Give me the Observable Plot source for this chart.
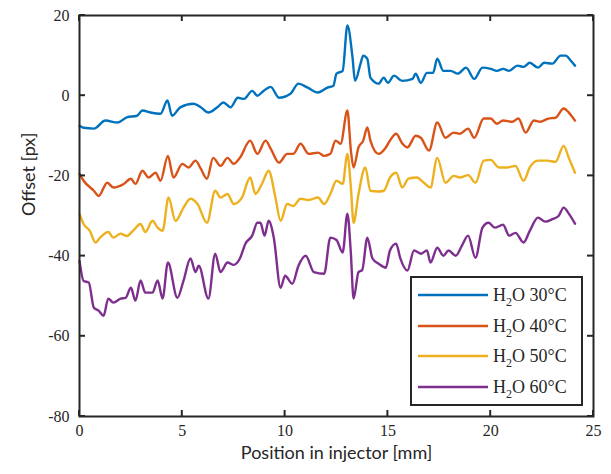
<!DOCTYPE html>
<html>
<head>
<meta charset="utf-8">
<script src="https://cdn.jsdelivr.net/npm/d3@7"></script>
<script src="https://cdn.jsdelivr.net/npm/@observablehq/plot@0.6"></script>
<style>
  html, body { margin: 0; padding: 0; background: #fff; }
  #wrap { position: relative; }
  #legend {
    position: absolute; left: 410px; top: 276px; width: 169px; height: 126px;
    border: 2px solid #262626; background: #fff;
    font-family: "Liberation Serif", serif; font-size: 18px; color: #262626;
  }
  .item { position: absolute; left: 0; height: 24px; display: flex; align-items: center; white-space: nowrap; }
  .item svg { margin-left: 6px; margin-right: 5px; }
  .item sub { font-size: 12px; vertical-align: -5px; line-height: 0; }
</style>
</head>
<body>
<div id="wrap"></div>
<script>
// ---- data ----
const seriesNames = ["30°C", "40°C", "50°C", "60°C"];
const seriesColors = ["#0072BD", "#D95319", "#EDB120", "#7E2F8E"];
const xTicks = [0, 5, 10, 15, 20, 25];
const yTicks = [-80, -60, -40, -20, 0, 20];

const x30 = [0,0.2,0.7,1.26,1.85,2.3,2.8,3.06,3.45,3.94,4.28,4.5,4.9,5.55,5.9,6.27,6.7,7.0,7.35,7.7,8.0,8.4,8.65,8.95,9.3,9.7,10.26,10.65,11.1,11.6,12.06,12.35,12.5,12.8,13.03,13.28,13.4,13.67,13.8,14.0,14.15,14.55,14.8,15.0,15.3,15.7,16.2,16.35,16.6,16.9,17.2,17.4,17.7,18.05,18.4,18.8,19.2,19.6,20.0,20.3,20.6,20.9,21.3,21.6,21.9,22.3,22.6,23.0,23.4,23.65,23.9,24.1];
const y30 = [-7.5,-8,-8.2,-6.2,-6.7,-5.4,-5,-3.7,-4.2,-4.5,-1.2,-5,-2.9,-2,-2.9,-4.2,-2.9,-1.7,-2.9,-0.5,-0.8,1.2,0,1.2,2.2,-0.5,0.5,3,2,0.8,2,2.5,5.5,6.2,17.5,9.5,3.7,8,10,9.2,4.5,3,4.5,3.2,5,3.7,4.2,5.5,3.2,5.7,5.7,9.2,6.2,6.2,5.5,7,4.2,7,6.7,6.2,6.7,6.2,7.5,7.2,8.2,7,8.2,8,10,10,8.7,7.5];

const x40 = [0,0.2,0.7,0.93,1.35,1.65,2.15,2.5,2.72,3.06,3.36,3.7,3.94,4.3,4.57,5.0,5.3,5.64,5.9,6.2,6.5,6.86,7.2,7.5,7.8,8.3,8.65,9.05,9.3,9.7,10.1,10.4,10.75,11.15,11.6,11.9,12.2,12.45,12.7,13.03,13.2,13.33,13.57,13.8,14.0,14.15,14.55,14.9,15.1,15.4,15.7,15.95,16.35,16.6,17.0,17.4,17.8,18.2,18.5,18.9,19.2,19.66,20.0,20.3,20.6,21.05,21.35,21.7,22.1,22.4,22.8,23.15,23.55,23.8,24.1];
const y40 = [-19.5,-21.2,-23.7,-25,-21.7,-22.9,-22,-20.7,-22,-18.7,-20.4,-19.2,-21.2,-15,-20.4,-17,-17.9,-16.2,-18.2,-20.7,-15.5,-17.5,-15.5,-17,-15.5,-11.2,-14.5,-11.2,-13.2,-16.7,-14.5,-14.5,-12,-14.5,-14.2,-15,-14.5,-11.2,-12,-3.7,-13.7,-17.9,-12.9,-11.2,-7.9,-11.2,-14.5,-12.9,-11.2,-9.5,-11.9,-12.9,-10,-10.5,-13.7,-6.7,-10.5,-9.2,-9.5,-8.2,-10.5,-5.7,-5.7,-7,-6.2,-6.5,-5.7,-9.2,-6.2,-6.5,-5.7,-5.5,-3.2,-4.2,-6.2];

const x50 = [0,0.2,0.5,0.78,1.0,1.4,1.65,2.0,2.3,2.6,2.97,3.2,3.55,3.8,4.04,4.33,4.67,5.06,5.4,5.74,6.2,6.6,6.86,7.2,7.5,7.9,8.3,8.56,8.9,9.2,9.53,9.78,10.1,10.4,10.75,11.15,11.6,11.9,12.2,12.5,12.8,13.03,13.2,13.33,13.57,13.9,14.15,14.5,14.8,15.1,15.4,15.7,16.0,16.4,16.75,17.07,17.4,17.8,18.2,18.5,18.9,19.26,19.66,20.0,20.4,20.8,21.2,21.6,21.9,22.3,22.75,23.15,23.55,23.8,24.1];
const y50 = [-29.5,-32,-33.7,-36.6,-35.4,-34,-35.4,-34.4,-35,-33.7,-32,-34,-31.2,-32.9,-33.7,-25.4,-31.2,-27.9,-25.7,-27,-31.7,-23.7,-25.4,-24.5,-27,-25.4,-20.4,-24.5,-21.7,-18.7,-25.4,-31.2,-27,-27.5,-25.7,-26,-25.4,-27,-24.5,-21.2,-22,-14.5,-22.9,-31.7,-24.5,-17.9,-23.7,-23.9,-23.7,-20.4,-19.2,-22.9,-20.7,-20.4,-21.7,-22.9,-15.5,-21.7,-20,-20.4,-19.8,-21.7,-16.2,-16,-17.9,-17.9,-17.5,-21.2,-17.9,-16.2,-16.2,-16.5,-12.5,-15.5,-19.2];

const x60 = [0,0.2,0.45,0.7,0.93,1.17,1.4,1.65,2.0,2.24,2.5,2.72,2.97,3.2,3.55,3.8,4.04,4.3,4.76,5.06,5.4,5.64,5.8,6.27,6.6,6.86,7.2,7.5,7.8,8.07,8.4,8.65,8.8,9.0,9.2,9.45,9.78,10.0,10.35,10.65,11.0,11.4,11.9,12.2,12.5,12.8,13.03,13.2,13.33,13.57,13.75,14.0,14.25,14.55,14.9,15.1,15.4,15.6,15.95,16.27,16.6,16.9,17.07,17.4,17.7,17.95,18.3,18.6,18.9,19.26,19.6,19.9,20.2,20.6,20.9,21.2,21.6,21.9,22.3,22.65,23.0,23.3,23.55,23.8,24.1];
const y60 = [-41.2,-46.2,-46.6,-52.9,-53.6,-54.9,-50.6,-51.6,-50.6,-50.4,-47.9,-51.1,-46.1,-49.1,-49.1,-46.1,-50.6,-41.6,-50.4,-46.1,-40.6,-44,-42.4,-50.6,-39.4,-44,-41.6,-42.2,-40.6,-36.9,-34.9,-31.7,-31.7,-34.9,-31.2,-35.4,-47.9,-44.9,-46.9,-42.4,-39.9,-44,-44.4,-35.4,-36,-39.1,-29.4,-39.4,-50.6,-44,-43.5,-35.4,-40.6,-41.9,-42.9,-38.6,-36.9,-40.5,-43.6,-38.6,-39.4,-38.6,-41.6,-37.9,-39.9,-38.6,-39.9,-37.4,-34.9,-40.4,-32.9,-31.7,-32.9,-32.2,-34.9,-34.2,-36.6,-33.7,-30.4,-31.4,-30.8,-30,-27.9,-29.4,-31.9];

const xs = [x30, x40, x50, x60];
const ys = [y30, y40, y50, y60];

// ---- table for Plot ----
const data = [];
seriesNames.forEach((name, s) => {
  const n = Math.min(xs[s].length, ys[s].length);
  for (let i = 0; i < n; i++) data.push({series: name, x: xs[s][i], y: ys[s][i]});
});

const ink = "#262626";
const fmt = d => String(d);

const chart = Plot.plot({
  width: 611,
  height: 474,
  marginLeft: 79,
  marginRight: 18,
  marginTop: 15,
  marginBottom: 58,
  x: {domain: [0, 25]},
  y: {domain: [-80, 20]},
  color: {domain: seriesNames, range: seriesColors},
  style: {fontFamily: "'Liberation Serif', serif", fontSize: "16px", color: ink},
  marks: [
    Plot.line(data, {x: "x", y: "y", z: "series", stroke: "series", strokeWidth: 2.4, strokeLinejoin: "round", curve: "monotone-x"}),
    Plot.frame({stroke: ink, strokeWidth: 2}),
    Plot.axisX(xTicks, {anchor: "bottom", tickSize: 0, tickPadding: 8, tickFormat: fmt, label: null, fill: ink}),
    Plot.axisY(yTicks, {anchor: "left", tickSize: 0, tickPadding: 10, tickFormat: fmt, label: null, fill: ink}),
    Plot.text(["Position in injector [mm]"], {frameAnchor: "bottom", dy: 42, fontFamily: "Lato", fontSize: 18, fill: ink}),
    Plot.text(["Offset [px]"], {frameAnchor: "left", dx: -50, rotate: -90, fontFamily: "Lato", fontSize: 18, fill: ink})
  ]
});

// ---- inward ticks on all four sides, positioned through the chart's own scales ----
const sx = chart.scale("x"), sy = chart.scale("y");
const X0 = sx.apply(0), X1 = sx.apply(25);
const Y0 = sy.apply(-80), Y1 = sy.apply(20);
const tickLen = 6;
const g = d3.select(chart).append("g").attr("stroke", ink).attr("stroke-width", 2);
xTicks.forEach(v => {
  const px = sx.apply(v);
  g.append("line").attr("x1", px).attr("x2", px).attr("y1", Y0).attr("y2", Y0 - tickLen);
  g.append("line").attr("x1", px).attr("x2", px).attr("y1", Y1).attr("y2", Y1 + tickLen);
});
yTicks.forEach(v => {
  const py = sy.apply(v);
  g.append("line").attr("y1", py).attr("y2", py).attr("x1", X0).attr("x2", X0 + tickLen);
  g.append("line").attr("y1", py).attr("y2", py).attr("x1", X1).attr("x2", X1 - tickLen);
});

const wrap = document.getElementById("wrap");
wrap.appendChild(chart);

// ---- legend ----
const legend = document.createElement("div");
legend.id = "legend";
const rowTops = [5, 36, 66, 97];
seriesNames.forEach((name, i) => {
  const item = document.createElement("div");
  item.className = "item";
  item.style.top = rowTops[i] + "px";
  item.innerHTML =
    `<svg width="70" height="6"><line x1="0" y1="3" x2="70" y2="3" stroke="${seriesColors[i]}" stroke-width="2.6"/></svg>` +
    `<span>H<sub>2</sub>O ${name}</span>`;
  legend.appendChild(item);
});
wrap.appendChild(legend);
</script>
</body>
</html>
